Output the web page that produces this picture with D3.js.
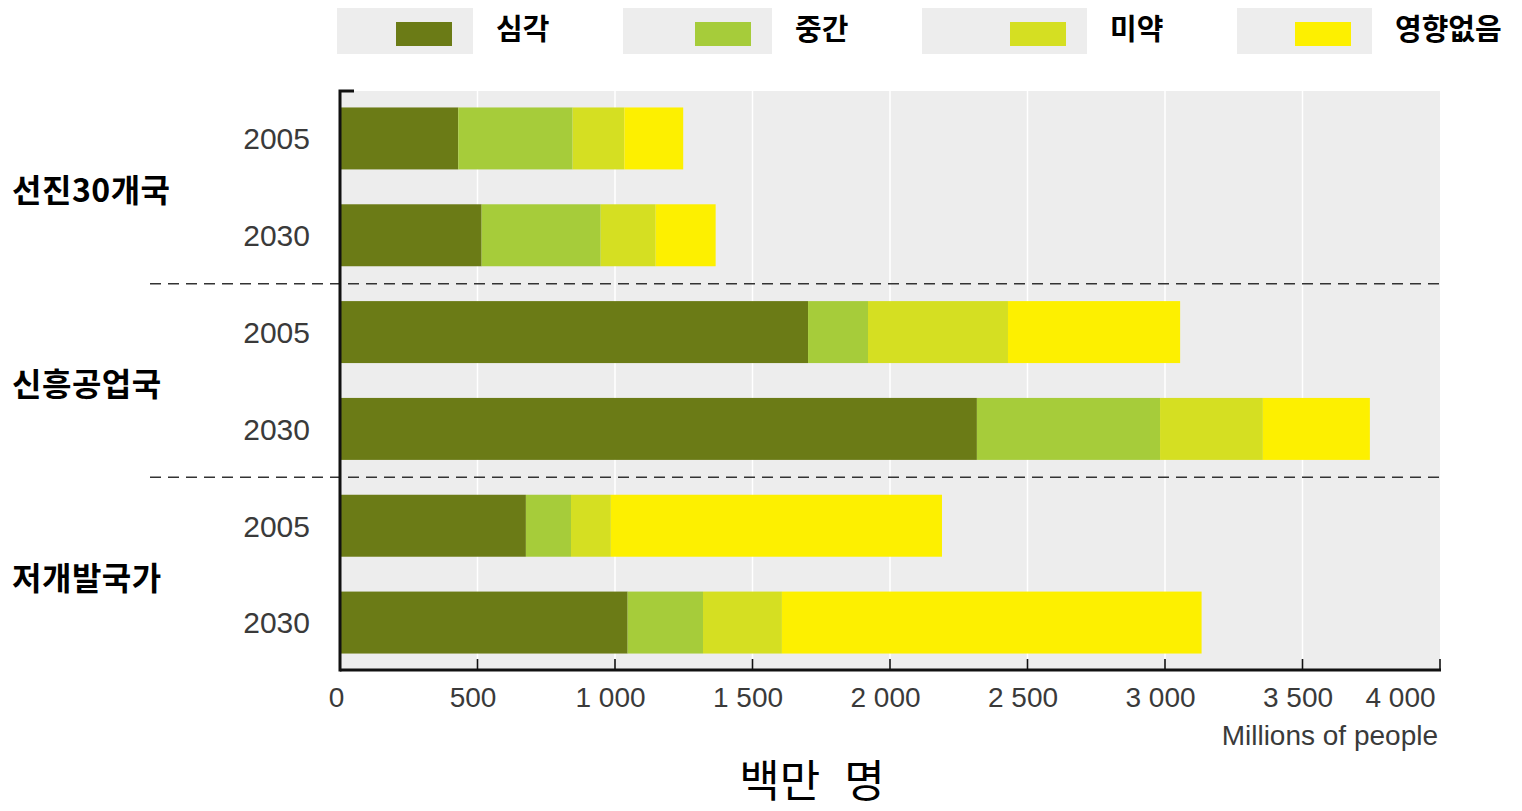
<!DOCTYPE html>
<html>
<head>
<meta charset="utf-8">
<script src="https://cdn.jsdelivr.net/npm/d3@7"></script>
<style>
  body { margin: 0; background: #fff; }
  svg { display: block; }
</style>
</head>
<body>
<div id="chart"></div>
<script>
// data (millions of people)
var groups = ["선진30개국", "신흥공업국", "저개발국가"];
var years = ["2005", "2030"];
var seriesNames = ["심각", "중간", "미약", "영향없음"];
var severe   = [430, 515, 1702, 2316, 676, 1046];
var moderate = [416, 433, 218, 666, 164, 274];
var mild     = [188, 200, 509, 374, 145, 287];
var noEffect = [214, 218, 626, 389, 1204, 1526];
var tickValues = [0, 500, 1000, 1500, 2000, 2500, 3000, 3500, 4000];
var colors = ["#6b7b16", "#a6cc3a", "#d5df22", "#fdf000"];

var svgWidth = 1522;
var svgHeight = 811;
var plot = { left: 340, right: 1440, top: 91, bottom: 670 };

var svg = d3.select("#chart")
  .append("svg")
  .attr("width", svgWidth)
  .attr("height", svgHeight);

// rows: one per group/year
var rows = [];
groups.forEach(function(g, gi) {
  years.forEach(function(y, yi) {
    var i = gi * years.length + yi;
    rows.push({
      key: g + "|" + y, group: g, year: y,
      "심각": severe[i], "중간": moderate[i], "미약": mild[i], "영향없음": noEffect[i]
    });
  });
});

var x = d3.scaleLinear()
  .domain([0, 4000])
  .range([plot.left, plot.right]);

var y = d3.scaleBand()
  .domain(rows.map(d => d.key))
  .range([plot.top, plot.bottom])
  .paddingInner(0.36)
  .paddingOuter(0.17);

var color = d3.scaleOrdinal().domain(seriesNames).range(colors);

// plot background
svg.append("rect")
  .attr("x", plot.left)
  .attr("y", plot.top)
  .attr("width", plot.right - plot.left)
  .attr("height", plot.bottom - plot.top)
  .attr("fill", "#ededed");

// white gridlines
svg.append("g")
  .selectAll("line")
  .data(tickValues.slice(1, -1))
  .enter()
  .append("line")
  .attr("x1", d => x(d))
  .attr("x2", d => x(d))
  .attr("y1", plot.top)
  .attr("y2", plot.bottom)
  .attr("stroke", "#fff")
  .attr("stroke-width", 1.5);

// stacked bars
var stack = d3.stack().keys(seriesNames);
var stacked = stack(rows);

svg.append("g")
  .selectAll("g")
  .data(stacked)
  .enter()
  .append("g")
  .attr("fill", d => color(d.key))
  .selectAll("rect")
  .data(d => d)
  .enter()
  .append("rect")
  .attr("x", d => x(d[0]))
  .attr("y", d => y(d.data.key))
  .attr("width", d => x(d[1]) - x(d[0]))
  .attr("height", y.bandwidth());

// dashed group dividers
var dividers = [];
for (var gi = 1; gi < groups.length; gi++) {
  var prevKey = groups[gi - 1] + "|" + years[years.length - 1];
  var nextKey = groups[gi] + "|" + years[0];
  dividers.push((y(prevKey) + y.bandwidth() + y(nextKey)) / 2);
}
svg.append("g")
  .selectAll("line")
  .data(dividers)
  .enter()
  .append("line")
  .attr("x1", 150)
  .attr("x2", plot.right)
  .attr("y1", d => d)
  .attr("y2", d => d)
  .attr("stroke", "#333")
  .attr("stroke-width", 1.6)
  .attr("stroke-dasharray", "11,7");

// bottom axis
var bottomAxis = d3.axisBottom(x)
  .tickValues(tickValues)
  .tickSize(0)
  .tickPadding(17)
  .tickFormat(d => d3.format(",")(d).replace(",", " "));

var xAxisG = svg.append("g")
  .attr("transform", `translate(0, ${plot.bottom})`)
  .call(bottomAxis);
xAxisG.select(".domain").remove();
xAxisG.selectAll("text")
  .attr("font-family", "'Liberation Sans', Arial, sans-serif")
  .attr("font-size", "28px")
  .attr("fill", "#3a3a3a")
  .attr("dx", d => d === 0 ? -4 : (d === 4000 ? -40 : -5));

// tick marks pointing up
svg.append("g")
  .selectAll("line")
  .data(tickValues.slice(1))
  .enter()
  .append("line")
  .attr("x1", d => x(d))
  .attr("x2", d => x(d))
  .attr("y1", plot.bottom - 11)
  .attr("y2", plot.bottom)
  .attr("stroke", "#111")
  .attr("stroke-width", 1.6);

svg.append("line")
  .attr("x1", plot.left)
  .attr("x2", plot.right + 1)
  .attr("y1", plot.bottom)
  .attr("y2", plot.bottom)
  .attr("stroke", "#111")
  .attr("stroke-width", 3);

// left axis with small cap at the top
svg.append("path")
  .attr("d", `M${plot.left + 14},${plot.top} H${plot.left} V${plot.bottom + 1.5}`)
  .attr("fill", "none")
  .attr("stroke", "#111")
  .attr("stroke-width", 3);

// year labels
svg.append("g")
  .selectAll("text")
  .data(rows)
  .enter()
  .append("text")
  .attr("x", 310)
  .attr("y", d => y(d.key) + y.bandwidth() / 2)
  .attr("dy", "0.36em")
  .attr("text-anchor", "end")
  .attr("font-family", "'Liberation Sans', Arial, sans-serif")
  .attr("font-size", "30px")
  .attr("fill", "#3a3a3a")
  .text(d => d.year);

// group labels
svg.append("g")
  .selectAll("text")
  .data(groups)
  .enter()
  .append("text")
  .attr("x", 12)
  .attr("y", d => (y(d + "|" + years[0]) + y(d + "|" + years[1]) + y.bandwidth()) / 2 + 4)
  .attr("dy", "0.36em")
  .attr("font-family", "'Noto Sans CJK KR', 'Noto Sans', sans-serif")
  .attr("font-weight", "bold")
  .attr("font-size", "32px")
  .attr("letter-spacing", "0.5px")
  .attr("fill", "#000")
  .text(d => d);

// axis titles
svg.append("text")
  .attr("x", 1438)
  .attr("y", 745)
  .attr("text-anchor", "end")
  .attr("font-family", "'Liberation Sans', Arial, sans-serif")
  .attr("font-size", "28px")
  .attr("fill", "#3a3a3a")
  .text("Millions of people");

svg.append("text")
  .attr("x", 812)
  .attr("y", 797)
  .attr("text-anchor", "middle")
  .attr("font-family", "'Noto Sans CJK KR', sans-serif")
  .attr("font-size", "44px")
  .attr("fill", "#000")
  .attr("word-spacing", "14px")
  .text("백만 명");

// legend
var legendStarts = [337, 623, 922, 1237];
var legendEnds = [473, 772, 1087, 1372];
var legend = svg.append("g")
  .selectAll("g")
  .data(seriesNames)
  .enter()
  .append("g");

legend.append("rect")
  .attr("x", (d, i) => legendStarts[i])
  .attr("y", 8)
  .attr("width", (d, i) => legendEnds[i] - legendStarts[i])
  .attr("height", 46)
  .attr("fill", "#ededed");

legend.append("rect")
  .attr("x", (d, i) => legendEnds[i] - 77)
  .attr("y", 22)
  .attr("width", 56)
  .attr("height", 24)
  .attr("fill", d => color(d));

legend.append("text")
  .attr("x", (d, i) => legendEnds[i] + 23)
  .attr("y", 30)
  .attr("dy", "0.36em")
  .attr("font-family", "'Noto Sans CJK KR', sans-serif")
  .attr("font-weight", "bold")
  .attr("font-size", "29px")
  .attr("fill", "#000")
  .text(d => d);
</script>
</body>
</html>
